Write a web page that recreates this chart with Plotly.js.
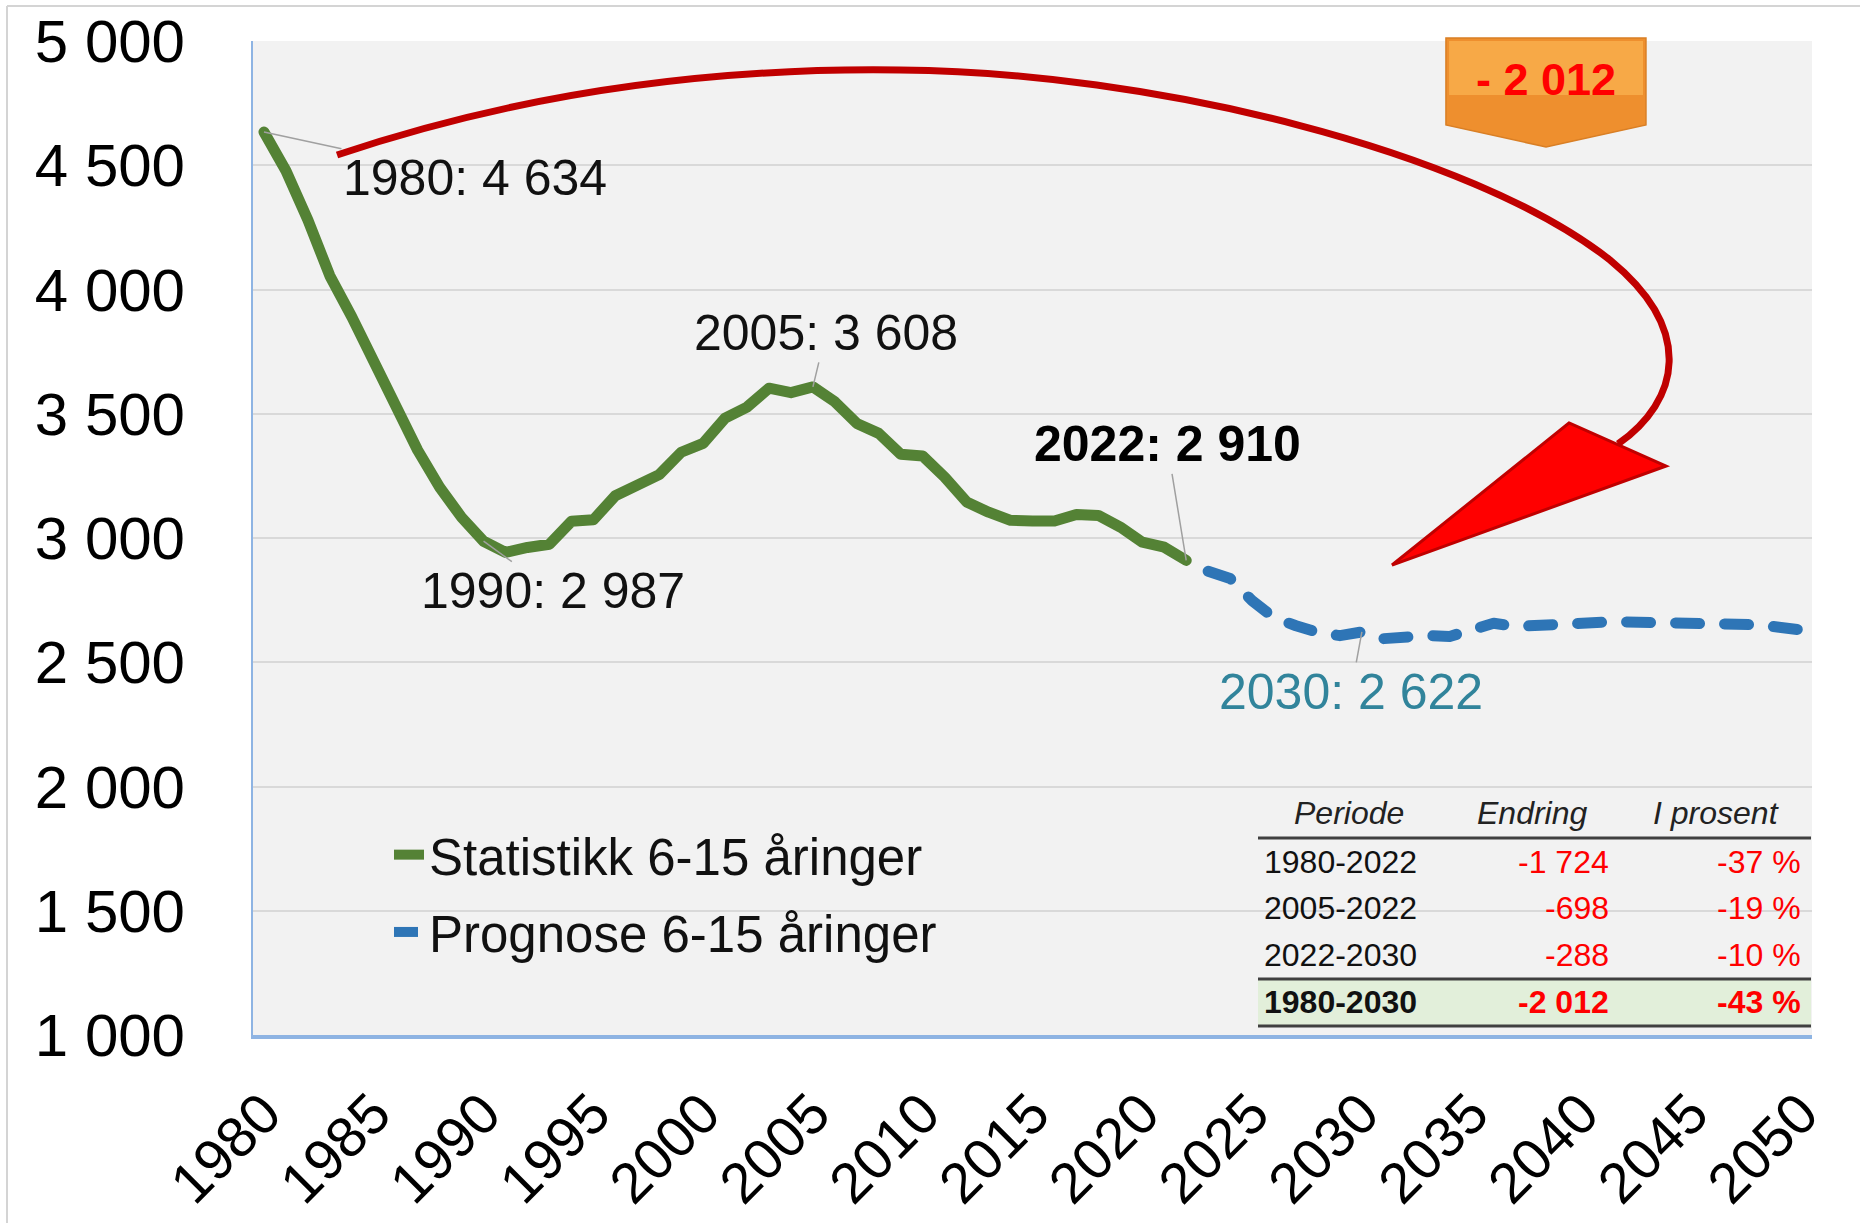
<!DOCTYPE html>
<html>
<head>
<meta charset="utf-8">
<script src="https://cdn.plot.ly/plotly-3.0.1.min.js"></script>
<style>
  html, body { margin: 0; padding: 0; background: #ffffff; }
  #chart { width: 1860px; height: 1223px; }
  #chart .scatterlayer path.js-line { stroke-linecap: round; stroke-linejoin: round; }
</style>
</head>
<body>
<div id="chart"></div>
<script>
// statistikk 6-15 åringer
const statYears = [1980, 1981, 1982, 1983, 1984, 1985, 1986, 1987, 1988, 1989,
  1990, 1991, 1992, 1993, 1994, 1995, 1996, 1997, 1998, 1999,
  2000, 2001, 2002, 2003, 2004, 2005, 2006, 2007, 2008, 2009,
  2010, 2011, 2012, 2013, 2014, 2015, 2016, 2017, 2018, 2019,
  2020, 2021, 2022];
const statValues = [4634, 4478, 4280, 4055, 3890, 3704, 3527, 3353, 3204, 3083,
  2987, 2942, 2962, 2975, 3067, 3073, 3170, 3218, 3255, 3345,
  3381, 3482, 3527, 3603, 3585, 3608, 3548, 3461, 3421, 3337,
  3330, 3245, 3145, 3104, 3071, 3068, 3068, 3095, 3091, 3044,
  2983, 2963, 2910];

// prognose 6-15 åringer
const progYears = [2023, 2024, 2025, 2026, 2027, 2028, 2029, 2030, 2031, 2032,
  2033, 2034, 2035, 2036, 2037, 2038, 2039, 2040, 2041, 2042,
  2043, 2044, 2045, 2046, 2047, 2048, 2049, 2050];
const progValues = [2866, 2837, 2748, 2679, 2647, 2620, 2607, 2622, 2595, 2604,
  2607, 2604, 2635, 2657, 2644, 2650, 2657, 2660, 2661, 2662,
  2662, 2662, 2661, 2660, 2657, 2651, 2641, 2630];

const xTickVals = [1980, 1985, 1990, 1995, 2000, 2005, 2010, 2015, 2020, 2025, 2030, 2035, 2040, 2045, 2050];
const yTickVals = [1000, 1500, 2000, 2500, 3000, 3500, 4000, 4500, 5000];
const yTickText = ["1 000", "1 500", "2 000", "2 500", "3 000", "3 500", "4 000", "4 500", "5 000"];

// labelled points
const labelYears = [1980, 1990, 2005, 2022, 2030];
const labelTexts = ["1980: 4 634", "1990: 2 987", "2005: 3 608", "<b>2022: 2 910</b>", "2030: 2 622"];
const labelValues = [4634, 2987, 3608, 2910, 2622];

// table in the corner
const tablePeriods = ["1980-2022", "2005-2022", "2022-2030", "1980-2030"];
const tableChange = ["-1 724", "-698", "-288", "-2 012"];
const tablePercent = ["-37 %", "-19 %", "-10 %", "-43 %"];
const tableHeader = ["Periode", "Endring", "I prosent"];
const totalChange = "- 2 012";

const W = 1860, H = 1223;
const M = { l: 253, r: 48, t: 41, b: 188 };
const plotW = W - M.l - M.r;
const plotH = H - M.t - M.b;
const fx = x => (x - M.l) / plotW;
const fy = y => (H - M.b - y) / plotH;
const P = (x, y) => fx(x).toFixed(4) + "," + fy(y).toFixed(4);

const FONT = "Liberation Sans, Arial, sans-serif";

const traces = [
  {
    x: statYears, y: statValues, type: "scatter", mode: "lines",
    name: "Statistikk 6-15 åringer", legendgroup: "a",
    line: { color: "#548235", width: 11 },
    hoverinfo: "skip",
  },
  {
    x: progYears, y: progValues, type: "scatter", mode: "lines",
    name: "Prognose 6-15 åringer", legendgroup: "b",
    line: { color: "#2E75B6", width: 11, dash: "24px,25px" },
    hoverinfo: "skip",
  },
];

// point labels with grey leader lines
const labelOffsets = [[211, 46], [69, 50], [13, -54], [-19, -116], [-11, 60]];
const labelColors = ["#111", "#111", "#111", "#000", "#31849B"];
const annotations = labelYears.map((yr, i) => ({
  x: yr, y: labelValues[i], xref: "x", yref: "y",
  text: labelTexts[i], showarrow: true, arrowhead: 0,
  arrowwidth: 1.5, arrowcolor: "#A0A0A0",
  ax: labelOffsets[i][0], ay: labelOffsets[i][1],
  font: { family: FONT, size: 50, color: labelColors[i] },
}));

// orange callout text
annotations.push({
  xref: "paper", yref: "paper", x: fx(1546), y: fy(79),
  xanchor: "center", yanchor: "middle",
  text: "<b>" + totalChange + "</b>", showarrow: false,
  font: { family: FONT, size: 45, color: "#FF0000" },
});

// table
const colX = [1349, 1532, 1716];
tableHeader.forEach((h, i) => annotations.push({
  xref: "paper", yref: "paper", x: fx(colX[i]), y: fy(813),
  xanchor: "center", yanchor: "middle",
  text: "<i>" + h + "</i>", showarrow: false,
  font: { family: FONT, size: 32, color: "#222" },
}));
const rowY = [862, 908, 955, 1002];
tablePeriods.forEach((p, i) => {
  const b = i === tablePeriods.length - 1;
  const w = s => (b ? "<b>" + s + "</b>" : s);
  const cell = (x, anchor, txt, color) => ({
    xref: "paper", yref: "paper", x: fx(x), y: fy(rowY[i]),
    xanchor: anchor, yanchor: "middle",
    text: w(txt), showarrow: false, font: { family: FONT, size: 32, color: color },
  });
  annotations.push(cell(1262, "left", p, "#111"));
  annotations.push(cell(1611, "right", tableChange[i], "#FF0000"));
  annotations.push(cell(1803, "right", tablePercent[i], "#FF0000"));
});

const shapes = [
  // frame of the picture
  { type: "line", xref: "paper", yref: "paper", x0: fx(7), x1: fx(W), y0: fy(6), y1: fy(6),
    line: { color: "#D4D4D4", width: 2 } },
  { type: "line", xref: "paper", yref: "paper", x0: fx(7), x1: fx(7), y0: fy(6), y1: fy(H),
    line: { color: "#D4D4D4", width: 2 } },
  // table
  { type: "rect", xref: "paper", yref: "paper", x0: fx(1258), x1: fx(1811), y0: fy(980), y1: fy(1025),
    fillcolor: "#E2EFDA", line: { width: 0 }, layer: "above" },
  { type: "line", xref: "paper", yref: "paper", x0: fx(1258), x1: fx(1811), y0: fy(838), y1: fy(838),
    line: { color: "#404040", width: 3 }, layer: "above" },
  { type: "line", xref: "paper", yref: "paper", x0: fx(1258), x1: fx(1811), y0: fy(979), y1: fy(979),
    line: { color: "#404040", width: 3 }, layer: "above" },
  { type: "line", xref: "paper", yref: "paper", x0: fx(1258), x1: fx(1811), y0: fy(1026), y1: fy(1026),
    line: { color: "#404040", width: 3 }, layer: "above" },
  // big red arrow
  { type: "path", xref: "paper", yref: "paper", layer: "above",
    path: "M" + P(337, 155) + " C" + P(560, 80) + " " + P(760, 68) + " " + P(900, 70) +
      " C" + P(1150, 72) + " " + P(1470, 150) + " " + P(1610, 260) +
      " C" + P(1695, 330) + " " + P(1680, 400) + " " + P(1618, 444),
    line: { color: "#C00000", width: 7 } },
  { type: "path", xref: "paper", yref: "paper", layer: "above",
    path: "M" + P(1569, 423) + " L" + P(1666, 466) + " L" + P(1392, 565) + " Z",
    fillcolor: "#FF0000", line: { color: "#C00000", width: 3 } },
  // orange callout
  { type: "path", xref: "paper", yref: "paper", layer: "above",
    path: "M" + P(1446, 38) + " L" + P(1646, 38) + " L" + P(1646, 125) + " L" + P(1546, 147) +
      " L" + P(1446, 125) + " Z",
    fillcolor: "#EE8F2E", line: { color: "#D97F25", width: 1.5 } },
  { type: "path", xref: "paper", yref: "paper", layer: "above",
    path: "M" + P(1449, 41) + " L" + P(1643, 41) + " L" + P(1643, 95) + " L" + P(1449, 95) + " Z",
    fillcolor: "rgba(250,178,80,0.75)", line: { width: 0 } },
];

const layout = {
  width: W, height: H,
  margin: M,
  paper_bgcolor: "#ffffff",
  plot_bgcolor: "#F2F2F2",
  font: { family: FONT, color: "#000" },
  showlegend: true,
  legend: {
    x: fx(389), y: fy(815), xanchor: "left", yanchor: "top",
    bgcolor: "rgba(0,0,0,0)", borderwidth: 0,
    font: { family: FONT, size: 51, color: "#111" },
    traceorder: "grouped", tracegroupgap: 8,
  },
  xaxis: {
    range: [1979.5, 2050.5], tickvals: xTickVals, tickangle: -45,
    showgrid: false, zeroline: false,
    showline: true, linecolor: "#8EB4E3", linewidth: 4,
    ticks: "", ticklabelstandoff: 18,
    tickfont: { family: FONT, size: 57, color: "#000" },
  },
  yaxis: {
    range: [1000, 5000], tickvals: yTickVals, ticktext: yTickText,
    showgrid: true, gridcolor: "#D9D9D9", gridwidth: 2, zeroline: false,
    showline: true, linecolor: "#8EB4E3", linewidth: 2,
    ticks: "", ticklabelstandoff: 54,
    tickfont: { family: FONT, size: 60, color: "#000" },
  },
  annotations: annotations,
  shapes: shapes,
};

Plotly.newPlot("chart", traces, layout, { displayModeBar: false, staticPlot: true });
</script>
</body>
</html>
